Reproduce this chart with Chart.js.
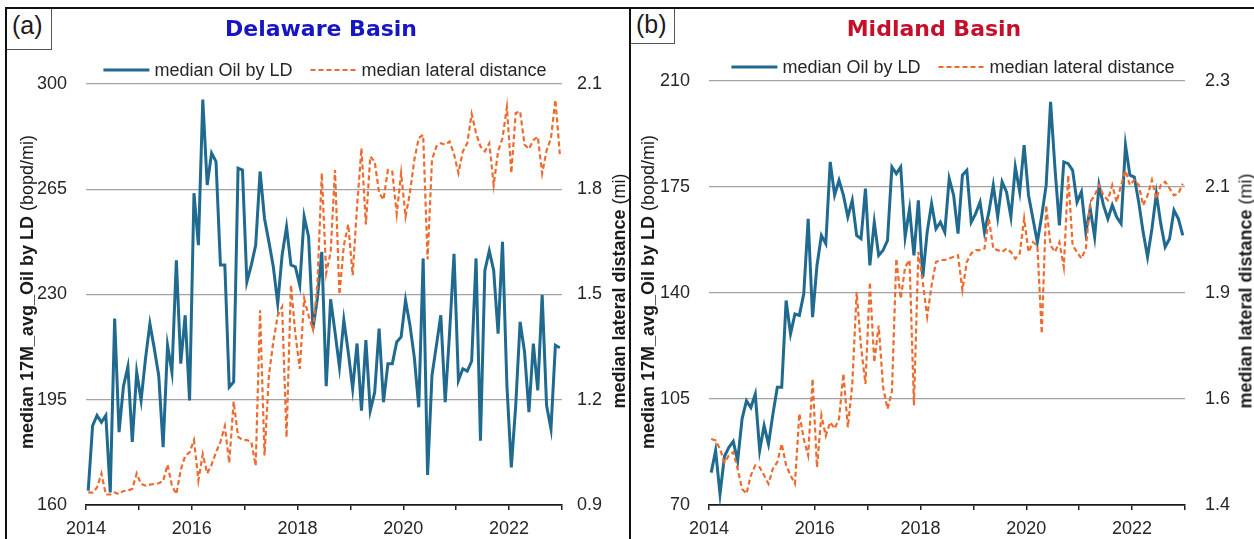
<!DOCTYPE html>
<html>
<head>
<meta charset="utf-8">
<script src="https://cdn.jsdelivr.net/npm/chart.js@4.4.1/dist/chart.umd.min.js"></script>
<style>
  html, body { margin: 0; padding: 0; background: #ffffff; }
  body { width: 1254px; height: 539px; position: relative; overflow: hidden;
         font-family: "Liberation Sans", Arial, sans-serif; color: #1a1a1a; }
  canvas { position: absolute; top: 0; }
  .rule { position: absolute; background: #111; }
  .tag { position: absolute; box-sizing: border-box; border-right: 1px solid #555; border-bottom: 1px solid #555;
         font-size: 25px; line-height: 1; padding: 4px 0 0 5px; color: #1a1a1a; background: #fff; }
  .title { position: absolute; transform: translate(-50%, -50%); white-space: nowrap;
           font-family: "DejaVu Sans", Verdana, sans-serif; font-weight: bold; font-size: 22px; }
  .ytitle { position: absolute; transform: translate(-50%, -50%) rotate(-90deg); white-space: nowrap;
            font-size: 18px; color: #1a1a1a; }
</style>
</head>
<body>

<canvas id="delaware" width="629" height="539" style="left:0px"></canvas>
<canvas id="midland" width="625" height="539" style="left:629px"></canvas>

<div class="rule" style="left:5px;top:7px;width:1249px;height:2px"></div>
<div class="rule" style="left:5px;top:7px;width:2px;height:532px"></div>
<div class="rule" style="left:629px;top:7px;width:2px;height:532px"></div>

<div class="tag" style="left:7px;top:9px;width:45px;height:41px">(a)</div>
<div class="tag" style="left:631px;top:9px;width:44px;height:35px;padding-top:3px">(b)</div>

<div class="title" style="left:321px;top:28px;color:#1616c4">Delaware Basin</div>
<div class="title" style="left:934px;top:28px;color:#c4102a">Midland Basin</div>

<div class="ytitle" style="left:27px;top:292px"><b>median 17M_avg_Oil by LD</b> (bopd/mi)</div>
<div class="ytitle" style="left:619px;top:291px"><b>median lateral distance</b> (mi)</div>
<div class="ytitle" style="left:648px;top:292px"><b>median 17M_avg_Oil by LD</b> (bopd/mi)</div>
<div class="ytitle" style="left:1246px;top:291px"><b>median lateral distance</b> (mi)</div>

<script>
// Monthly observations, Jan 2014 - Dec 2022
const months = [
  '2014-01','2014-02','2014-03','2014-04','2014-05','2014-06','2014-07','2014-08','2014-09','2014-10','2014-11','2014-12',
  '2015-01','2015-02','2015-03','2015-04','2015-05','2015-06','2015-07','2015-08','2015-09','2015-10','2015-11','2015-12',
  '2016-01','2016-02','2016-03','2016-04','2016-05','2016-06','2016-07','2016-08','2016-09','2016-10','2016-11','2016-12',
  '2017-01','2017-02','2017-03','2017-04','2017-05','2017-06','2017-07','2017-08','2017-09','2017-10','2017-11','2017-12',
  '2018-01','2018-02','2018-03','2018-04','2018-05','2018-06','2018-07','2018-08','2018-09','2018-10','2018-11','2018-12',
  '2019-01','2019-02','2019-03','2019-04','2019-05','2019-06','2019-07','2019-08','2019-09','2019-10','2019-11','2019-12',
  '2020-01','2020-02','2020-03','2020-04','2020-05','2020-06','2020-07','2020-08','2020-09','2020-10','2020-11','2020-12',
  '2021-01','2021-02','2021-03','2021-04','2021-05','2021-06','2021-07','2021-08','2021-09','2021-10','2021-11','2021-12',
  '2022-01','2022-02','2022-03','2022-04','2022-05','2022-06','2022-07','2022-08','2022-09','2022-10','2022-11','2022-12'
];

// Delaware Basin: median 17-month average oil per lateral length (bopd/mi)
const delawareOil = [
  164.8, 186.4, 189.8, 187.5, 189.8, 164.2, 222.0, 184.2, 199.5, 206.0, 181.0, 204.2,
  194.8, 208.7, 220.3, 212.0, 203.1, 179.2, 213.1, 204.2, 241.4, 207.0, 223.1, 194.8,
  263.7, 246.4, 294.8, 266.4, 277.0, 274.2, 239.8, 239.8, 199.2, 200.9, 272.0, 271.4,
  234.2, 239.8, 246.4, 270.9, 255.3, 247.5, 239.2, 227.0, 243.1, 252.5, 239.8, 239.2,
  233.1, 255.9, 249.2, 218.7, 228.7, 244.2, 199.5, 228.4, 217.5, 205.9, 221.5, 210.9,
  198.7, 213.7, 191.4, 214.8, 191.4, 197.5, 218.7, 194.2, 207.0, 207.0, 214.2, 215.9,
  228.1, 219.8, 209.0, 192.5, 242.0, 170.0, 203.1, 213.0, 223.1, 194.2, 217.5, 243.5,
  201.4, 205.3, 204.5, 207.8, 242.0, 181.4, 238.0, 244.5, 238.0, 217.0, 247.5, 199.8,
  172.5, 193.1, 220.9, 210.9, 190.9, 213.7, 198.1, 229.8, 193.1, 185.3, 213.1, 212.3
];
// Delaware Basin: median lateral distance (mi)
const delawareLateral = [
  0.936, 0.935, 0.950, 0.990, 0.930, 0.930, 0.936, 0.931, 0.940, 0.941, 0.946, 0.990,
  0.960, 0.955, 0.958, 0.960, 0.962, 0.968, 1.015, 0.955, 0.931, 1.000, 1.040, 1.050,
  1.085, 0.970, 1.045, 0.990, 1.015, 1.050, 1.080, 1.125, 1.020, 1.195, 1.095, 1.085,
  1.085, 1.080, 1.012, 1.455, 1.041, 1.270, 1.365, 1.440, 1.465, 1.093, 1.527, 1.388,
  1.288, 1.488, 1.440, 1.400, 1.527, 1.846, 1.560, 1.620, 1.855, 1.500, 1.640, 1.700,
  1.555, 1.750, 1.917, 1.700, 1.893, 1.879, 1.790, 1.770, 1.855, 1.850, 1.730, 1.846,
  1.722, 1.790, 1.884, 1.946, 1.955, 1.600, 1.884, 1.922, 1.931, 1.927, 1.936, 1.900,
  1.846, 1.908, 1.931, 2.015, 1.960, 1.922, 1.908, 1.931, 1.812, 1.908, 1.946, 2.034,
  1.846, 2.017, 2.022, 1.927, 1.915, 1.940, 1.950, 1.845, 1.910, 1.946, 2.055, 1.900
];

// Midland Basin: median 17-month average oil per lateral length (bopd/mi)
const midlandOil = [
  80.7, 88.0, 73.6, 86.0, 89.0, 91.0, 84.6, 98.4, 104.4, 102.2, 106.6, 88.0,
  96.2, 90.1, 100.0, 108.9, 108.9, 137.5, 126.5, 133.1, 132.6, 139.7, 164.5, 132.0,
  149.1, 159.0, 156.3, 183.3, 172.3, 177.2, 172.3, 165.1, 170.6, 159.0, 157.9, 174.5,
  149.1, 163.4, 152.4, 154.1, 157.4, 181.6, 179.4, 181.6, 158.5, 167.8, 152.4, 170.6,
  145.2, 160.1, 169.5, 161.2, 163.4, 160.1, 177.8, 172.3, 159.6, 178.9, 180.5, 163.4,
  166.2, 170.0, 160.1, 166.7, 175.6, 165.1, 176.7, 173.4, 165.1, 181.6, 173.4, 188.8,
  172.3, 164.5, 156.8, 165.6, 175.6, 203.1, 181.1, 162.3, 183.3, 182.7, 180.5, 170.0,
  173.4, 160.1, 167.8, 158.5, 175.6, 169.0, 164.5, 169.0, 165.1, 162.9, 188.8, 178.9,
  178.3, 170.0, 160.1, 151.9, 161.2, 172.8, 162.9, 155.2, 157.9, 167.3, 164.5, 159.0
];
// Midland Basin: median lateral distance (mi)
const midlandLateral = [
  1.540, 1.537, 1.519, 1.490, 1.505, 1.512, 1.477, 1.434, 1.424, 1.463, 1.484, 1.480,
  1.463, 1.445, 1.477, 1.491, 1.530, 1.484, 1.463, 1.445, 1.594, 1.540, 1.505, 1.668,
  1.480, 1.590, 1.547, 1.576, 1.562, 1.583, 1.679, 1.565, 1.654, 1.852, 1.735, 1.657,
  1.873, 1.703, 1.781, 1.650, 1.604, 1.640, 1.923, 1.838, 1.905, 1.920, 1.612, 1.937,
  1.873, 1.800, 1.866, 1.916, 1.920, 1.920, 1.923, 1.927, 1.930, 1.856, 1.916, 1.934,
  1.941, 1.941, 1.944, 2.008, 1.944, 1.941, 1.937, 1.944, 1.937, 1.923, 1.934, 2.008,
  1.937, 1.958, 1.951, 1.764, 2.036, 1.951, 1.937, 1.958, 1.905, 2.100, 1.951, 1.937,
  1.923, 1.944, 2.043, 2.057, 2.079, 2.057, 2.047, 2.079, 2.043, 2.079, 2.110, 2.079,
  2.090, 2.079, 2.036, 2.057, 2.090, 2.050, 2.079, 2.086, 2.072, 2.057, 2.061, 2.082
];

// Axis ticks
const xTickLabels = ['2014', '', '2016', '', '2018', '', '2020', '', '2022', ''];
const delawareOilTicks = [160, 195, 230, 265, 300];
const delawareLateralTicks = [0.9, 1.2, 1.5, 1.8, 2.1];
const delawareLateralTickLabels = ['0.9', '1.2', '1.5', '1.8', '2.1'];
const midlandOilTicks = [70, 105, 140, 175, 210];
const midlandLateralTicks = [1.4, 1.625, 1.85, 2.075, 2.3];
const midlandLateralTickLabels = ['1.4', '1.6', '1.9', '2.1', '2.3'];

const OIL_LABEL = 'median Oil by LD';
const LATERAL_LABEL = 'median lateral distance';
const OIL_COLOR = '#1f6a8e';
const LATERAL_COLOR = '#ee6b2f';
const TEXT_COLOR = '#262626';
const FONT_FAMILY = '"Liberation Sans", Arial, sans-serif';

// month 'YYYY-MM' -> position on a month-count axis starting Jan 2014 (mid-month)
function monthPos(label) {
  const [y, m] = label.split('-').map(Number);
  return (y - 2014) * 12 + (m - 1) + 0.5;
}
function toPoints(values) {
  return values.map((v, i) => ({ x: monthPos(months[i]), y: v }));
}

// Legend drawn as line samples above the plot area
const lineLegend = {
  id: 'lineLegend',
  afterDraw(chart, args, opts) {
    const { ctx, chartArea } = chart;
    ctx.save();
    ctx.font = '18px ' + FONT_FAMILY;
    const items = opts.order.map(i => chart.data.datasets[i]);
    const sample = 46, gap = 5, spacing = 18;
    const widths = items.map(d => sample + gap + ctx.measureText(d.label).width);
    const total = widths.reduce((a, b) => a + b, 0) + spacing * (items.length - 1);
    let x = (chartArea.left + chartArea.right) / 2 + opts.shift - total / 2;
    const y = opts.y;
    items.forEach((d, k) => {
      ctx.beginPath();
      ctx.setLineDash(d.borderDash || []);
      ctx.strokeStyle = d.borderColor;
      ctx.lineWidth = d.borderWidth;
      ctx.moveTo(x, y);
      ctx.lineTo(x + sample, y);
      ctx.stroke();
      ctx.setLineDash([]);
      ctx.fillStyle = TEXT_COLOR;
      ctx.textBaseline = 'middle';
      ctx.textAlign = 'left';
      ctx.fillText(d.label, x + sample + gap, y + 1);
      x += widths[k] + spacing;
    });
    ctx.restore();
  }
};

function makeChart(id, cfg) {
  const canvas = document.getElementById(id);
  const W = canvas.width, H = canvas.height;
  return new Chart(canvas, {
    type: 'line',
    data: {
      datasets: [
        {
          label: LATERAL_LABEL,
          data: toPoints(cfg.lateral),
          yAxisID: 'y1',
          borderColor: LATERAL_COLOR,
          borderWidth: 2.2,
          borderDash: [5, 3],
          pointRadius: 0,
          tension: 0,
          fill: false
        },
        {
          label: OIL_LABEL,
          data: toPoints(cfg.oil),
          yAxisID: 'y',
          borderColor: OIL_COLOR,
          borderWidth: 3,
          pointRadius: 0,
          tension: 0,
          fill: false
        }
      ]
    },
    options: {
      responsive: false,
      animation: false,
      devicePixelRatio: 1,
      layout: { padding: { top: cfg.top, left: 0, right: 0, bottom: 0 } },
      plugins: {
        legend: { display: false },
        title: { display: false },
        tooltip: { enabled: false },
        lineLegend: { order: [1, 0], y: cfg.legendY, shift: cfg.legendShift }
      },
      scales: {
        x: {
          type: 'linear',
          min: 0,
          max: 108,
          afterBuildTicks: s => { s.ticks = xTickLabels.map((_, i) => ({ value: i * 12 })); },
          afterFit: s => { s.height = H - cfg.bottom; },
          ticks: {
            callback: (v, i) => xTickLabels[i],
            color: TEXT_COLOR,
            padding: 8,
            maxRotation: 0,
            autoSkip: false,
            font: { family: FONT_FAMILY, size: 18 }
          },
          grid: { drawOnChartArea: false, drawTicks: true, tickLength: 5, color: '#222', lineWidth: 1.5 },
          border: { display: true, color: '#1a1a1a', width: 1.8 }
        },
        y: {
          position: 'left',
          min: cfg.oilTicks[0],
          max: cfg.oilTicks[cfg.oilTicks.length - 1],
          afterBuildTicks: s => { s.ticks = cfg.oilTicks.map(v => ({ value: v })); },
          afterFit: s => { s.width = cfg.left; },
          ticks: {
            callback: (v, i) => String(cfg.oilTicks[i]),
            color: TEXT_COLOR,
            padding: 19,
            font: { family: FONT_FAMILY, size: 18 }
          },
          grid: {
            drawTicks: false,
            color: c => (c.tick && c.tick.value === cfg.oilTicks[0]) ? 'rgba(0,0,0,0)' : '#a3a3a3',
            lineWidth: 1.3
          },
          border: { display: false }
        },
        y1: {
          position: 'right',
          min: cfg.lateralTicks[0],
          max: cfg.lateralTicks[cfg.lateralTicks.length - 1],
          afterBuildTicks: s => { s.ticks = cfg.lateralTicks.map(v => ({ value: v })); },
          afterFit: s => { s.width = W - cfg.right; },
          ticks: {
            callback: (v, i) => cfg.lateralTickLabels[i],
            color: TEXT_COLOR,
            padding: cfg.rightPad,
            font: { family: FONT_FAMILY, size: 18 }
          },
          grid: { display: false, drawTicks: false },
          border: { display: false }
        }
      }
    },
    plugins: [lineLegend]
  });
}

makeChart('delaware', {
  oil: delawareOil, lateral: delawareLateral,
  oilTicks: delawareOilTicks, lateralTicks: delawareLateralTicks, lateralTickLabels: delawareLateralTickLabels,
  left: 86, right: 562, top: 84, bottom: 505, rightPad: 15,
  legendY: 70, legendShift: 1
});

makeChart('midland', {
  oil: midlandOil, lateral: midlandLateral,
  oilTicks: midlandOilTicks, lateralTicks: midlandLateralTicks, lateralTickLabels: midlandLateralTickLabels,
  left: 80, right: 556, top: 81, bottom: 505, rightPad: 20,
  legendY: 67, legendShift: 6
});
</script>
</body>
</html>
